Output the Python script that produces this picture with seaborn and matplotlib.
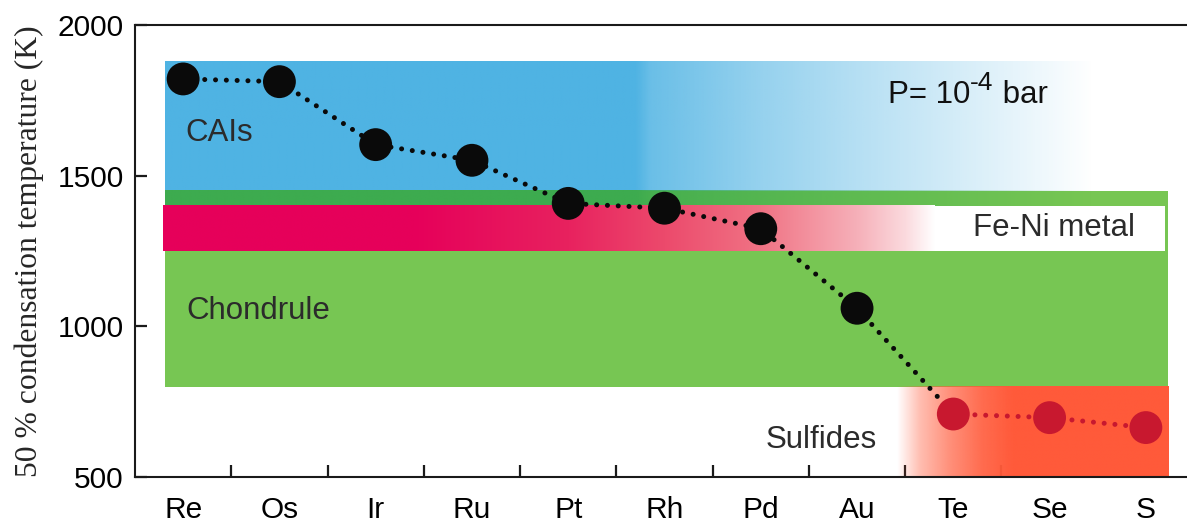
import numpy as np
import pandas as pd
import matplotlib
matplotlib.use("Agg")
import matplotlib.pyplot as plt
import seaborn as sns
from matplotlib.colors import to_rgb
from matplotlib.patches import Rectangle

# 50 % condensation temperatures (K) at P = 1e-4 bar
elements = ["Re", "Os", "Ir", "Ru", "Pt", "Rh", "Pd", "Au", "Te", "Se", "S"]
tc50 = [1821, 1812, 1603, 1551, 1408, 1392, 1324, 1060, 709, 697, 664]
host = ["metal"] * 8 + ["sulfide"] * 3

# temperature ranges (K) of the shaded regions
cai_range = (1450, 1880)
chondrule_range = (800, 1450)
metal_range = (1250, 1400)
sulfide_range = (500, 800)

sns.set_style("ticks")
plt.rcParams["font.family"] = ["Liberation Sans", "DejaVu Sans"]

fig = plt.figure(figsize=(11.87, 5.23), dpi=100)
ax = fig.add_axes([135 / 1187, 1 - 477 / 523, 1059 / 1187, 452 / 523])
ax.set_facecolor("white")

df = pd.DataFrame({"element": elements, "pos": np.arange(len(elements)),
                   "tc": tc50, "host": host})

band_x0, band_x1 = -0.19, 10.23


def gradient_band(x0, x1, y0, y1, color, xs_stop, alpha_stop, z):
    """Horizontal band whose opacity follows piecewise-linear stops."""
    n = 800
    xs = np.linspace(x0, x1, n)
    img = np.zeros((1, n, 4))
    img[0, :, :3] = np.array(to_rgb(color))
    img[0, :, 3] = np.clip(np.interp(xs, xs_stop, alpha_stop), 0, 1)
    ax.imshow(img, extent=(x0, x1, y0, y1), origin="lower", aspect="auto",
              interpolation="bilinear", zorder=z)


# chondrule (green) band
ax.add_patch(Rectangle((band_x0, chondrule_range[0]), band_x1 - band_x0,
                       chondrule_range[1] - chondrule_range[0],
                       facecolor="#77c653", edgecolor="none", zorder=0.5))

# CAI (blue) band fading towards the right, and its tint over the green strip
blue_x = [band_x0, 4.7, 4.85, 6.0, 7.0, 8.0, 9.0, 9.45]
blue_a = [1, 1, 0.85, 0.6, 0.42, 0.25, 0.08, 0]
gradient_band(band_x0, 9.45, cai_range[0], cai_range[1], "#4fb3e3",
              blue_x, blue_a, 0.6)
gradient_band(band_x0, 9.45, metal_range[1], chondrule_range[1], "#3dab4f",
              blue_x, blue_a, 0.7)

# Fe-Ni metal band: crimson fading to white
ax.add_patch(Rectangle((-0.21, metal_range[0]), band_x1 - 0.03 + 0.21,
                       metal_range[1] - metal_range[0],
                       facecolor="white", edgecolor="none", zorder=0.8))
red_x = [-0.21, 2.4, 4.0, 5.0, 6.0, 7.0, 7.5, 7.8]
red_rgb = np.array([to_rgb(c) for c in
                    ["#e6005a", "#e6005a", "#e8225f", "#ec4a6c",
                     "#f07384", "#f6b0b9", "#fbdade", "#ffffff"]])
n = 800
xs = np.linspace(-0.21, 7.8, n)
img = np.zeros((1, n, 3))
for k in range(3):
    img[0, :, k] = np.interp(xs, red_x, red_rgb[:, k])
ax.imshow(img, extent=(-0.21, 7.8, metal_range[0], metal_range[1]),
          origin="lower", aspect="auto", interpolation="bilinear", zorder=0.9)

# sulfide band fading in from the left
gradient_band(7.41, band_x1, sulfide_range[0], sulfide_range[1], "#ff5a3a",
              [7.41, 7.65, 7.96, 8.3, 8.6], [0, 0.4, 0.68, 0.9, 1], 0.6)

# connecting dotted lines
dots = dict(lw=3.6, linestyle=(0, (0.01, 2.15)), dash_capstyle="round",
            errorbar=None, legend=False)
sns.lineplot(data=df.iloc[:9], x="pos", y="tc", color="#0a0a0a", zorder=3,
             ax=ax, **dots)
sns.lineplot(data=df.iloc[8:], x="pos", y="tc", color="#c8182f", zorder=3,
             ax=ax, **dots)

# element markers
sns.scatterplot(data=df, x="pos", y="tc", hue="host",
                palette={"metal": "#0a0a0a", "sulfide": "#c8182f"},
                s=560, linewidth=0, legend=False, zorder=4, ax=ax)

# region labels
txt = dict(fontsize=22.5, color="#2b2b2b", zorder=5)
ax.text(0.02, 1642, "CAIs", ha="left", va="center", **txt)
ax.text(0.03, 1051, "Chondrule", ha="left", va="center", **txt)
ax.text(9.89, 1326, "Fe-Ni metal", ha="right", va="center", **txt)
ax.text(7.21, 623, "Sulfides", ha="right", va="center", **txt)

t1 = ax.text(7.32, 1768, "P= 10", ha="left", va="center", fontsize=22.5,
             color="#111111", zorder=5)
t2 = ax.annotate("-4", xy=(1.0, 0.5), xycoords=t1, ha="left", va="bottom",
                 fontsize=19, color="#111111", zorder=5)
ax.annotate(" bar", xy=(1.0, 0.0), xycoords=(t2, t1), ha="left",
            va="bottom", fontsize=22.5, color="#111111", zorder=5)

# axes, ticks and labels
ax.set_xlim(-0.5, 10.5)
ax.set_ylim(500, 2000)
ax.set_xticks(np.arange(len(elements)))
ax.set_xticklabels(elements)
ax.set_xticks(np.arange(len(elements) - 1) + 0.5, minor=True)
ax.set_yticks([500, 1000, 1500, 2000])
ax.tick_params(axis="x", which="major", length=0, pad=14, labelsize=21.5,
               labelcolor="black")
ax.tick_params(axis="x", which="minor", direction="in", length=8.6,
               width=1.6, color="#1a1a1a")
ax.tick_params(axis="y", which="major", direction="in", length=8.6,
               width=1.6, color="#1a1a1a", pad=8, labelsize=21.5,
               labelcolor="black")

for side in ["left", "bottom", "top"]:
    ax.spines[side].set_linewidth(1.5)
    ax.spines[side].set_color("#1a1a1a")
ax.spines["right"].set_visible(False)

ax.set_xlabel("")
ax.set_ylabel("50 % condensation temperature (K)",
              family=["Liberation Serif", "DejaVu Serif"], fontsize=22.8)
ax.yaxis.set_label_coords(-0.086, 0.5)

fig.savefig("out.png", dpi=100, facecolor="white")
